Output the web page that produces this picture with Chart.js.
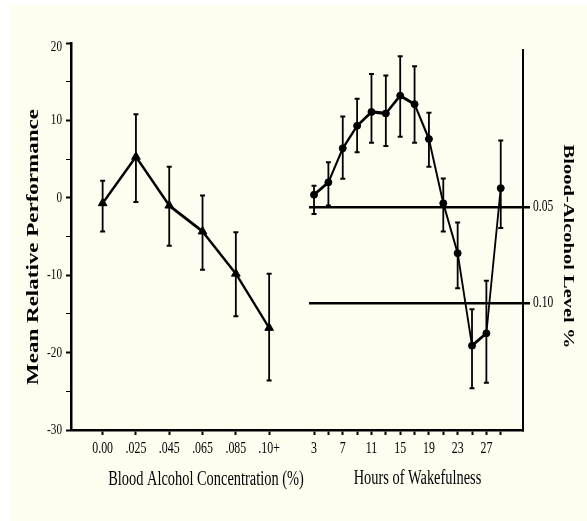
<!DOCTYPE html>
<html><head><meta charset="utf-8">
<script src="https://cdn.jsdelivr.net/npm/chart.js@4"></script>
<style>
html,body{margin:0;padding:0;background:#fff;width:587px;height:521px;overflow:hidden}
#bg{position:absolute;left:10px;top:5px;width:577px;height:516px;background:#FEFEF0}
canvas{position:absolute;top:0}
#cL{left:0}
#cR{left:309px}
</style></head><body>
<div id="bg"></div>
<canvas id="cL" width="309" height="521"></canvas>
<canvas id="cR" width="278" height="521"></canvas>
<script>
// ---- data ----
const bacLabels = ['0.00', '.025', '.045', '.065', '.085', '.10+'];
const bacMean = [-0.7, 5.3, -1.0, -4.35, -9.8, -16.8];
const bacHi   = [2.2, 10.8, 4.0, 0.3, -4.45, -9.8];
const bacLo   = [-4.35, -0.55, -6.2, -9.3, -15.3, -23.6];

const hours    = [3, 5, 7, 9, 11, 13, 15, 17, 19, 21, 23, 25, 27, 29];
const wakeMean = [0.4, 2.0, 6.4, 9.3, 11.1, 10.9, 13.2, 12.1, 7.6, -0.7, -7.15, -19.1, -17.5, 1.25];
const wakeHi   = [1.55, 4.6, 10.5, 12.8, 16.0, 15.8, 18.3, 17.0, 11.0, 2.5, -3.2, -14.4, -10.7, 7.4];
const wakeLo   = [-2.1, -1.0, 2.45, 5.9, 7.1, 6.7, 7.9, 7.1, 4.0, -4.35, -11.7, -24.6, -23.9, -3.9];

const yTickVals   = [-30, -20, -10, 0, 10, 20];
const yTickLabels = ['-30', '-20', '-10', '0', '10', '20'];
const yMinorVals  = [-25, -15, -5, 5, 15];
const hourLabelVals = [3, 7, 11, 15, 19, 23, 27];
const bacLevelVals   = [0.05, 0.10];
const bacLevelLabels = ['0.05', '0.10'];

// ---- helpers ----
const SERIF = '"Liberation Serif", "Times New Roman", serif';
const SQ = 0.72;     // horizontal squeeze of text
const LW = 3.3, LS = 0.55;
function segW(c) {
  const dx = c.p1.x - c.p0.x, dy = c.p1.y - c.p0.y, L = Math.hypot(dx, dy) || 1;
  const u = dx / L, v = dy / L;
  return LW * Math.sqrt(u * u + LS * LS * v * v);
}
function txt(ctx, s, x, y, size, weight, align, rot) {
  ctx.save();
  ctx.translate(x, y);
  ctx.scale(SQ, 1);
  if (rot) ctx.rotate(rot);
  ctx.font = weight + ' ' + size + 'px ' + SERIF;
  ctx.fillStyle = '#000';
  ctx.textAlign = align;
  ctx.textBaseline = 'middle';
  ctx.fillText(s, 0, 0);
  ctx.restore();
}
function errPlugin(xs, lo, hi) {
  return {
    id: 'err',
    afterDatasetsDraw(chart) {
      const ctx = chart.ctx, xS = chart.scales.x, yS = chart.scales.y;
      ctx.save();
      ctx.strokeStyle = '#000';
      for (let i = 0; i < xs.length; i++) {
        const px = xS.getPixelForValue(xs[i]);
        const yl = yS.getPixelForValue(lo[i]), yh = yS.getPixelForValue(hi[i]);
        ctx.lineWidth = LW * LS;
        ctx.beginPath(); ctx.moveTo(px, yl); ctx.lineTo(px, yh); ctx.stroke();
        ctx.lineWidth = 2;
        ctx.beginPath();
        ctx.moveTo(px - 2.5, yl); ctx.lineTo(px + 2.5, yl);
        ctx.moveTo(px - 2.5, yh); ctx.lineTo(px + 2.5, yh);
        ctx.stroke();
      }
      ctx.restore();
    }
  };
}
const common = {
  responsive: false, animation: false, devicePixelRatio: 1,
  plugins: { legend: { display: false }, tooltip: { enabled: false } }
};

// ---- left chart: blood alcohol ----
new Chart(document.getElementById('cL'), {
  type: 'line',
  data: { datasets: [{
    data: bacMean.map((v, i) => ({ x: i, y: v })),
    borderColor: '#000', backgroundColor: '#000',
    pointStyle: 'triangle', pointRadius: 5, pointBorderWidth: 1,
    borderWidth: LW, segment: { borderWidth: segW }, tension: 0, clip: false
  }]},
  options: Object.assign({}, common, {
    layout: { autoPadding: false, padding: { top: 43, left: 0, right: 0, bottom: 0 } },
    scales: {
      x: {
        type: 'linear', position: 'bottom', min: -0.95, max: 6.197,
        afterBuildTicks: s => { s.ticks = bacLabels.map((_, i) => ({ value: i })); },
        afterFit: s => { s.height = 91; },
        ticks: { display: false },
        grid: { drawOnChartArea: false, drawTicks: true, tickLength: 5, tickWidth: 2, tickColor: '#000' },
        border: { display: true, color: '#000', width: 2.5 }
      },
      y: {
        type: 'linear', position: 'left', min: -30, max: 20,
        afterBuildTicks: s => {
          s.ticks = yTickVals.concat(yMinorVals).sort((a, b) => a - b).map(v => ({ value: v }));
        },
        afterFit: s => { s.width = 71; },
        ticks: { display: false },
        grid: {
          drawOnChartArea: false, drawTicks: true, tickLength: 5, tickColor: '#000',
          tickWidth: c => (c.tick && yTickVals.includes(c.tick.value)) ? 2 : 1
        },
        border: { display: true, color: '#000', width: 2.5 }
      }
    }
  }),
  plugins: [errPlugin(bacMean.map((_, i) => i), bacLo, bacHi), {
    id: 'labelsL',
    afterDraw(chart) {
      const ctx = chart.ctx, xS = chart.scales.x, yS = chart.scales.y;
      yTickVals.forEach((v, i) => txt(ctx, yTickLabels[i], 62, yS.getPixelForValue(v) + (v === 20 ? 4 : 0), 15.5, 'normal', 'right'));
      bacLabels.forEach((l, i) => txt(ctx, l, xS.getPixelForValue(i), 449, 16.5, 'normal', 'center'));
      txt(ctx, 'Blood Alcohol Concentration (%)', 206, 480, 20, 'normal', 'center');
      txt(ctx, 'Mean Relative Performance', 34, 247, 23, 'bold', 'center', -Math.PI / 2);
    }
  }]
});

// ---- right chart: hours of wakefulness ----
new Chart(document.getElementById('cR'), {
  type: 'line',
  data: { datasets: [{
    data: wakeMean.map((v, i) => ({ x: hours[i], y: v })),
    borderColor: '#000', backgroundColor: '#000',
    pointStyle: 'circle', pointRadius: 3.5, pointBorderWidth: 1,
    borderWidth: LW, segment: { borderWidth: segW }, tension: 0, clip: false
  }]},
  options: Object.assign({}, common, {
    layout: { autoPadding: false, padding: { top: 50, left: 0, right: 0, bottom: 0 } },
    scales: {
      x: {
        type: 'linear', position: 'bottom', min: 2.30, max: 32.1,
        afterBuildTicks: s => { s.ticks = hours.map(h => ({ value: h })); },
        afterFit: s => { s.height = 91; },
        ticks: { display: false },
        grid: { drawOnChartArea: false, drawTicks: true, tickLength: 5, tickWidth: 2, tickColor: '#000' },
        border: { display: true, color: '#000', width: 2.5 }
      },
      y: {
        type: 'linear', position: 'left', min: -30, max: 19.1,
        afterFit: s => { s.width = 0; },
        ticks: { display: false },
        grid: { display: false },
        border: { display: false }
      },
      yR: {
        type: 'linear', position: 'right', min: -0.0313, max: 0.1657, reverse: true,
        afterBuildTicks: s => { s.ticks = bacLevelVals.map(v => ({ value: v })); },
        afterFit: s => { s.width = 64; },
        ticks: { display: false },
        grid: { drawOnChartArea: true, drawTicks: true, tickLength: 7, color: '#000', lineWidth: 2.5 },
        border: { display: true, color: '#000', width: 2 }
      }
    }
  }),
  plugins: [errPlugin(hours, wakeLo, wakeHi), {
    id: 'labelsR',
    afterDraw(chart) {
      const ctx = chart.ctx, xS = chart.scales.x, yR = chart.scales.yR, ca = chart.chartArea;
      hourLabelVals.forEach(h => txt(ctx, String(h), xS.getPixelForValue(h), 449, 16.5, 'normal', 'center'));
      bacLevelVals.forEach((v, i) => txt(ctx, bacLevelLabels[i], ca.right + 10, yR.getPixelForValue(v), 16, 'normal', 'left'));
      txt(ctx, 'Hours of Wakefulness', (ca.left + ca.right) / 2 + 1.5, 479, 20, 'normal', 'center');
      txt(ctx, 'Blood-Alcohol Level %', 259, 246.5, 20.5, 'bold', 'center', Math.PI / 2);
    }
  }]
});
</script>
</body></html>
